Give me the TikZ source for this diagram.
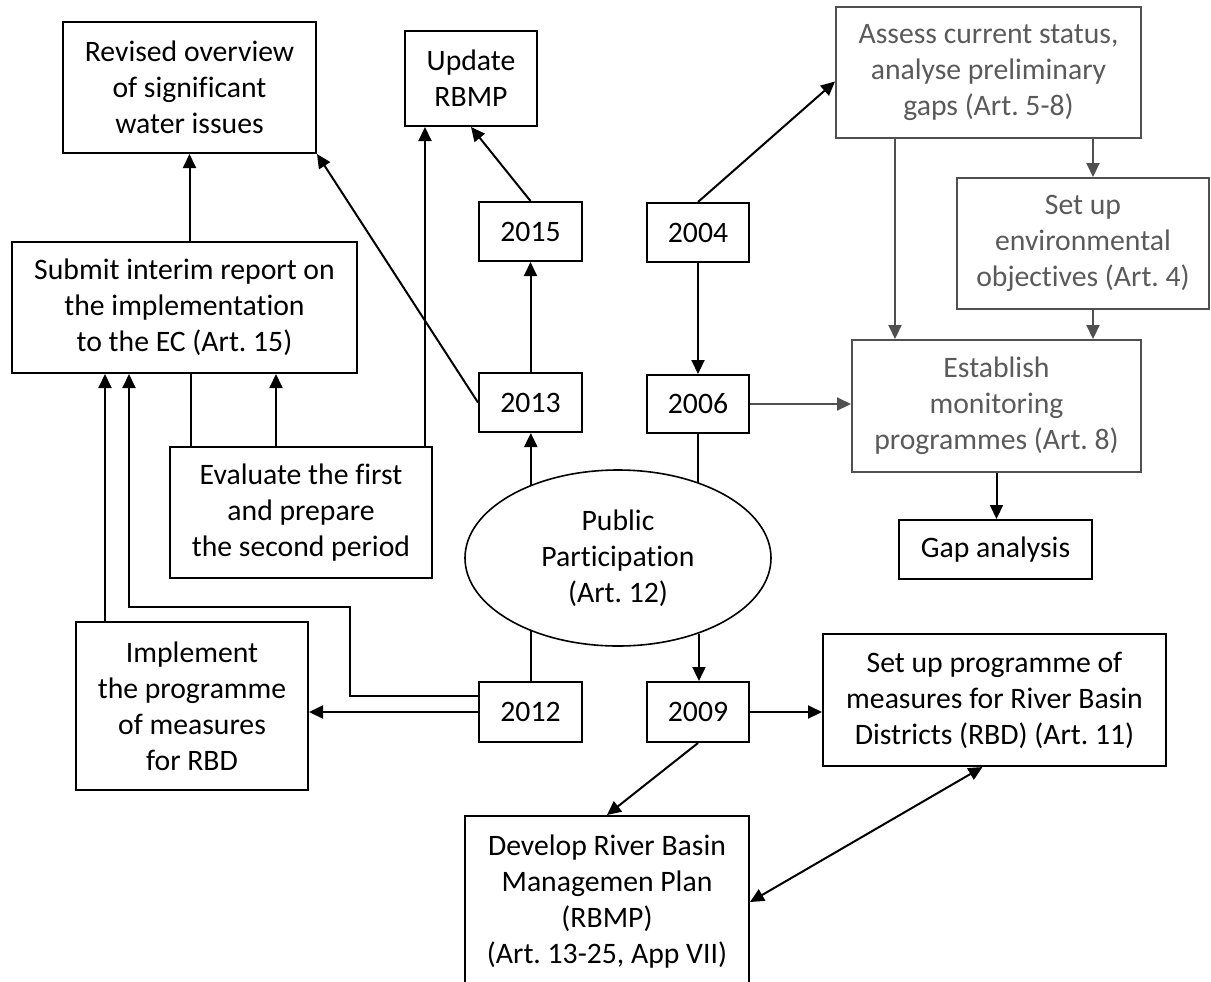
\documentclass[tikz,border=0pt]{standalone}
\usepackage{fontspec}
\setmainfont{Carlito}[Ligatures={NoCommon}]
\frenchspacing
\usetikzlibrary{arrows.meta,calc,shapes.geometric}
\definecolor{gtxt}{HTML}{5A5A5A}
\definecolor{gline}{HTML}{505050}
\begin{document}
\begin{tikzpicture}[x=0.5pt,y=-0.5pt,
  font=\fontsize{14.85pt}{18pt}\selectfont,
  box/.style={draw, line width=1pt, rectangle, align=center, inner sep=0pt},
  gbox/.style={box, draw=gline, text=gtxt},
  arr/.style={line width=1pt, -{Triangle[length=7pt,width=6.5pt]}},
  darr/.style={line width=1pt, {Triangle[length=7pt,width=6.5pt]}-{Triangle[length=7pt,width=6.5pt]}},
  garr/.style={arr, color=gline},
  ln/.style={line width=1pt}]
\useasboundingbox (0,0) rectangle (1211,981);
\clip (0,0) rectangle (1211,981);

% boxes
\node[box, minimum width=126.5pt, minimum height=65.5pt] (rev) at (189.5,87.5) {Revised overview\\of significant\\water issues};
\node[box, minimum width=66pt, minimum height=47.5pt] (upd) at (471,78.5) {Update\\RBMP};
\node[gbox, minimum width=152.5pt, minimum height=65.5pt] (ass) at (988.5,72.5) {Assess current status,\\analyse preliminary\\gaps (Art. 5-8)};
\node[box, minimum width=51.5pt, minimum height=29.5pt] (y2015) at (530.5,231.5) {2015};
\node[box, minimum width=51pt, minimum height=29.5pt] (y2004) at (698,232.5) {2004};
\node[gbox, minimum width=126pt, minimum height=65.5pt] (env) at (1083,243.5) {Set up\\environmental\\objectives (Art. 4)};
\node[box, minimum width=172.5pt, minimum height=65.5pt] (sub) at (184.5,307.5) {Submit interim report on\\the implementation\\to the EC (Art. 15)};
\node[box, minimum width=51.5pt, minimum height=29.5pt] (y2013) at (530.5,402.5) {2013};
\node[box, minimum width=51pt, minimum height=29pt] (y2006) at (698,404) {2006};
\node[gbox, minimum width=144.5pt, minimum height=66pt] (est) at (996.5,406) {Establish\\monitoring\\programmes (Art. 8)};
\node[box, minimum width=131pt, minimum height=65.5pt] (eva) at (301,512.5) {Evaluate the first\\and prepare\\the second period};
\node[draw, ellipse, line width=0.8pt, minimum width=153pt, minimum height=88pt, inner sep=0pt, align=center] (pp) at (618,558) {Public\\Participation\\(Art. 12)};
\node[box, minimum width=96.5pt, minimum height=29.5pt] (gap) at (995.5,549.5) {Gap analysis};
\node[box, minimum width=116pt, minimum height=84pt] (imp) at (192,706) {Implement\\the programme\\of measures\\for RBD};
\node[box, minimum width=51.5pt, minimum height=30pt] (y2012) at (530.5,712) {2012};
\node[box, minimum width=51pt, minimum height=30pt] (y2009) at (698,712) {2009};
\node[box, minimum width=171.5pt, minimum height=66pt] (smp) at (994.5,700) {Set up programme of\\measures for River Basin\\Districts (RBD) (Art. 11)};
\node[box, minimum width=142pt, minimum height=86pt] (dev) at (607,902) {Develop River Basin\\Managemen Plan\\(RBMP)\\(Art. 13-25, App VII)};

% helper coordinates
\coordinate (e1) at ($(eva.north east)+(-8,0)$);
\coordinate (c1) at ($(eva.north west)+(22,0)$);
\coordinate (c2) at ($(eva.north west)+(107,0)$);
\coordinate (i1) at ($(imp.north west)+(30,0)$);
\coordinate (r0) at ($(y2012.west)+(0,-16)$);
\coordinate (k1) at (350,607);
\coordinate (k2) at (129,607);
\coordinate (a1) at ($(est.north west)+(44,0)$);
\coordinate (a2) at ($(ass.south east)+(-49,0)$);
\coordinate (s1) at ($(smp.south)+(-12,0)$);
\coordinate (t1) at ($(ass.west)+(0,9)$);

% connectors (left part)
\draw[arr] (rev.south |- sub.north) -- (rev.south);
\draw[arr] (y2013.west) -- (rev.south east);
\draw[arr] (y2015.north) -- (upd.south);
\draw[arr] (e1) -- (e1 |- upd.south);
\draw[arr] (y2013.north) -- (y2015.south);
\draw[arr] (pp.140.5) -- (pp.140.5 |- y2013.south);
\draw[ln] (y2012.north) -- (y2012.north |- pp.219.5);
\draw[ln] (c1) -- (c1 |- sub.south);
\draw[arr] (c2) -- (c2 |- sub.south);
\draw[arr] (i1) -- (i1 |- sub.south);
\draw[arr] (r0) -| (k1) -- (k2) -- (k2 |- sub.south);
\draw[arr] (y2012.west) -- (y2012.west -| imp.east);

% connectors (right part)
\draw[arr] (y2004.south) -- (y2006.north);
\draw[arr] (y2004.north) -- (t1);
\draw[garr] (y2006.east) -- (y2006.east -| est.west);
\draw[ln] (y2006.south) -- (y2006.south |- pp.43.2);
\draw[arr] (pp.-43.2) -- (pp.-43.2 |- y2009.north);
\draw[garr] (a1 |- ass.south) -- (a1);
\draw[garr] (a2) -- (a2 |- env.north);
\draw[garr] (a2 |- env.south) -- (a2 |- est.north);
\draw[arr] (est.south) -- (est.south |- gap.north);
\draw[arr] (y2009.east) -- (y2009.east -| smp.west);
\draw[arr] (y2009.south) -- (dev.north);
\draw[darr] (dev.east) -- (s1);
\end{tikzpicture}
\end{document}
